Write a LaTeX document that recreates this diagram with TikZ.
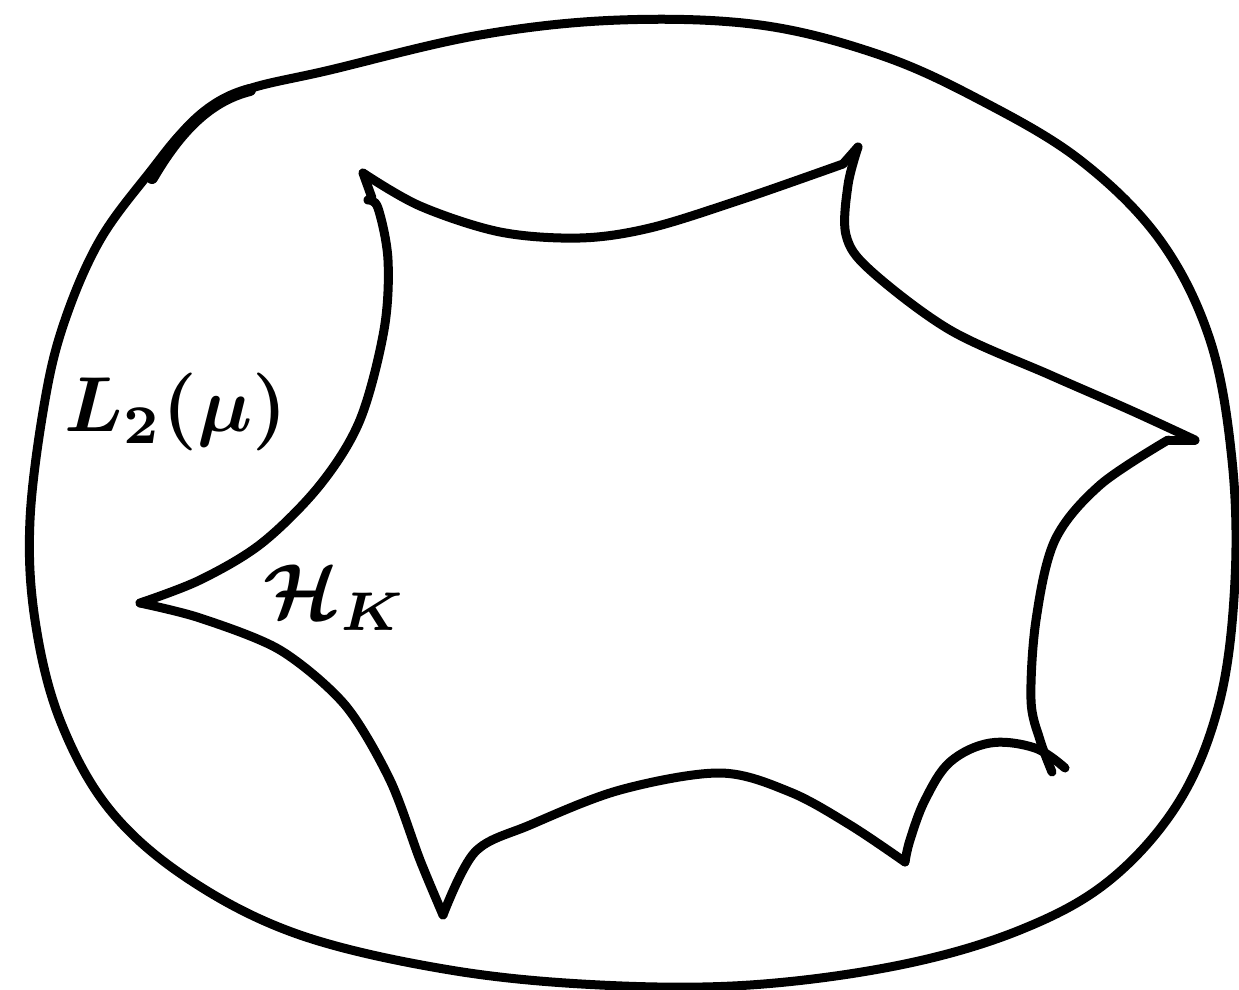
\documentclass[tikz,border=0pt]{standalone}
\begin{document}
\begin{tikzpicture}[x=1pt,y=-1pt,
  stroke/.style={line width=9pt,line cap=round,line join=round,black},
  lab/.style={inner sep=0pt,scale=7.8,font=\boldmath}]
\useasboundingbox (0,0) rectangle (1239,990);
% outer space
\draw[stroke] plot[smooth cycle,tension=0.6] coordinates {
 (45,400) (30,520) (35,620) (60,720) (110,810) (190,880) (300,935) (450,970)
 (600,985) (750,985) (900,965) (1020,930) (1110,880) (1180,800) (1220,700)
 (1235,580) (1232,460) (1210,340) (1160,240) (1080,160) (980,100) (880,55)
 (760,25) (620,20) (480,35) (330,70) (240,92) (190,125) (150,172) (100,240) (65,320)};
\draw[stroke,line width=12pt] (152,178) .. controls (180,130) and (210,100) .. (250,90);
% inner star-shaped region
\draw[stroke] plot[smooth,tension=0.55] coordinates {(363,173) (420,206) (500,232) (580,238) (650,228) (740,200) (843,164)} -- (858,147);
\draw[stroke] plot[smooth,tension=0.55] coordinates {(858,147) (848,185) (846,235) (870,270) (950,330) (1050,375) (1130,410) (1195,440)};
\draw[stroke] (1195,440) -- (1168,440);
\draw[stroke] plot[smooth,tension=0.55] coordinates {(1168,440) (1100,485) (1055,540) (1036,620) (1031,700) (1040,740) (1052,772)};
\draw[stroke] plot[smooth,tension=0.6] coordinates {(1065,768) (1035,748) (990,743) (950,762) (925,800) (910,840) (905,862)};
\draw[stroke] plot[smooth,tension=0.55] coordinates {(905,862) (850,825) (790,792) (720,773) (620,790) (530,825) (475,852) (443,915)};
\draw[stroke] plot[smooth,tension=0.5] coordinates {(443,915) (420,860) (390,780) (345,705) (280,650) (200,618) (140,603)};
\draw[stroke] plot[smooth,tension=0.55] coordinates {(140,603) (200,580) (262,543) (320,485) (360,420) (384,330) (388,260) (378,208) (368,200)};
\draw[stroke] (368,200) -- (372,198) -- (363,173);
% labels
\node[lab] (l2) at (176,412) {$L_2(\mu)$};
\node[lab] (hk) at (335,598) {$\mathcal{H}_K$};
\end{tikzpicture}
\end{document}
